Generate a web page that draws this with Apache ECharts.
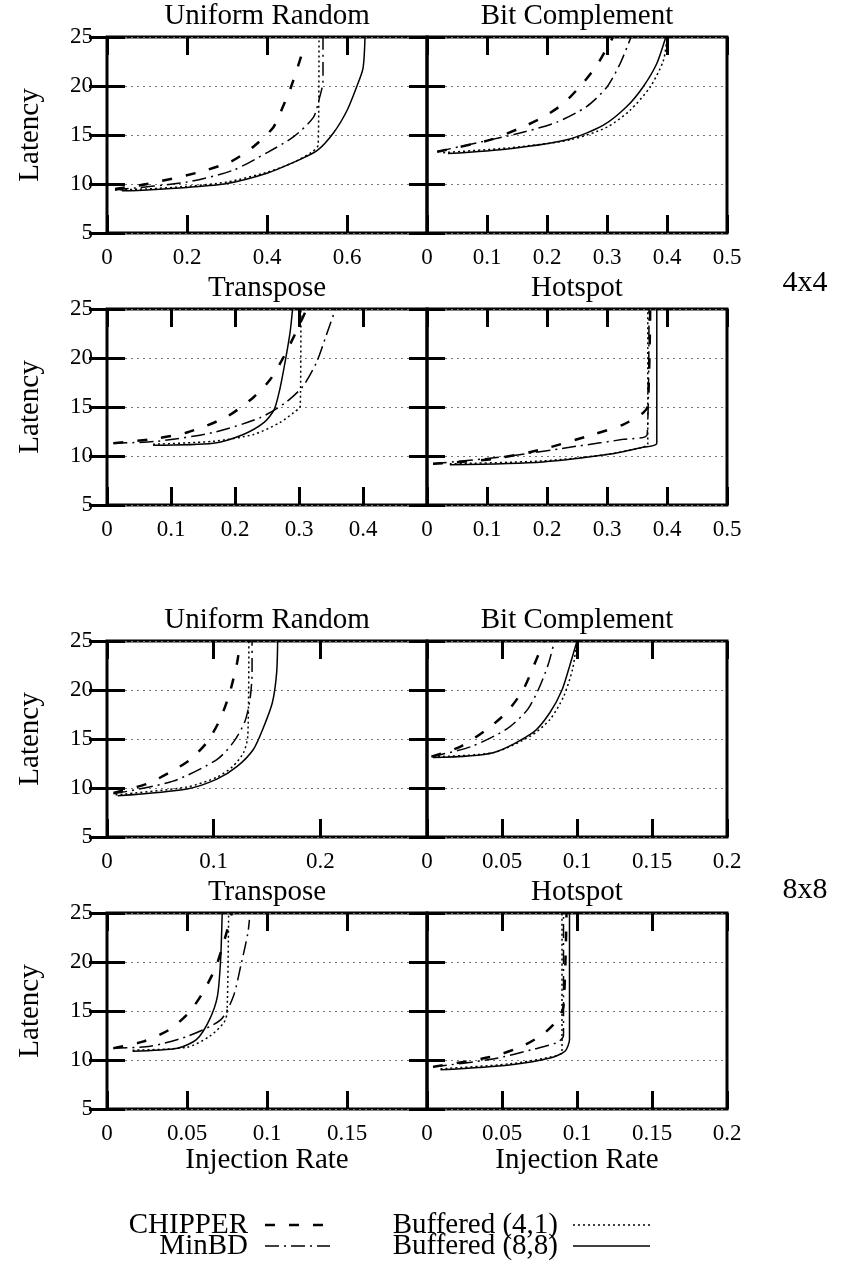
<!DOCTYPE html>
<html>
<head>
<meta charset="utf-8">
<script src="https://cdn.jsdelivr.net/npm/echarts@6/dist/echarts.min.js"></script>
<style>
  html, body { margin: 0; padding: 0; background: #fff; }
  #chart { width: 849px; height: 1270px; }
</style>
</head>
<body>
<div id="chart"></div>
<script>
// panels, left to right, top to bottom
const titles = ['Uniform Random', 'Bit Complement', 'Transpose', 'Hotspot',
  'Uniform Random', 'Bit Complement', 'Transpose', 'Hotspot']
const xMax = [0.8, 0.5, 0.5, 0.5, 0.3, 0.2, 0.2, 0.2]
const xStep = [0.2, 0.1, 0.1, 0.1, 0.1, 0.05, 0.05, 0.05]
const yMin = 5
const yMax = 25
const yStep = 5
const seriesNames = ['CHIPPER', 'MinBD', 'Buffered (4,1)', 'Buffered (8,8)']

// 4x4
const ur4Chipper = [[0.02, 9.5], [0.1, 10.0], [0.23, 11.2], [0.31, 12.3], [0.366, 13.8], [0.416, 15.8], [0.44, 17.9], [0.46, 19.9], [0.49, 23.6]]
const ur4MinBD = [[0.02, 9.4], [0.2, 10.2], [0.315, 11.4], [0.4, 13.2], [0.466, 14.8], [0.516, 16.8], [0.53, 18.6], [0.54, 20.5], [0.54, 25]]
const ur4Buf41 = [[0.02, 9.4], [0.1, 9.5], [0.2, 9.75], [0.3, 10.2], [0.4, 11.2], [0.466, 12.2], [0.51, 13.2], [0.528, 14.0], [0.53, 25]]
const ur4Buf88 = [[0.037, 9.3], [0.1, 9.4], [0.2, 9.65], [0.3, 10.05], [0.4, 11.1], [0.466, 12.2], [0.525, 13.4], [0.566, 15.2], [0.6, 17.5], [0.624, 19.9], [0.64, 21.8], [0.645, 25]]

const bc4Chipper = [[0.017, 13.3], [0.105, 14.5], [0.155, 15.7], [0.193, 16.8], [0.227, 18.2], [0.26, 20.3], [0.285, 22.3], [0.31, 25]]
const bc4MinBD = [[0.017, 13.3], [0.083, 14.2], [0.155, 15.2], [0.216, 16.3], [0.266, 17.9], [0.3, 19.9], [0.322, 22.3], [0.34, 25]]
const bc4Buf41 = [[0.027, 13.2], [0.138, 13.7], [0.238, 14.5], [0.3, 15.8], [0.338, 17.5], [0.372, 19.9], [0.394, 22.6], [0.4, 25]]
const bc4Buf88 = [[0.035, 13.1], [0.138, 13.6], [0.238, 14.6], [0.294, 16.0], [0.333, 17.9], [0.36, 19.9], [0.383, 22.3], [0.398, 25]]

const tr4Chipper = [[0.01, 11.3], [0.067, 11.7], [0.125, 12.4], [0.187, 14.0], [0.229, 16.0], [0.255, 17.8], [0.276, 20.1], [0.295, 22.6], [0.312, 25]]
const tr4MinBD = [[0.01, 11.3], [0.078, 11.5], [0.166, 12.4], [0.239, 13.9], [0.28, 15.5], [0.306, 17.1], [0.327, 19.5], [0.342, 22.2], [0.357, 25]]
const tr4Buf41 = [[0.072, 11.2], [0.166, 11.5], [0.229, 12.2], [0.27, 13.4], [0.291, 14.4], [0.302, 15.1], [0.303, 25]]
const tr4Buf88 = [[0.072, 11.1], [0.166, 11.3], [0.213, 12.2], [0.245, 13.4], [0.261, 14.7], [0.27, 16.8], [0.278, 19.5], [0.286, 22.6], [0.29, 25]]

const hs4Chipper = [[0.01, 9.2], [0.11, 9.7], [0.193, 10.7], [0.277, 12.2], [0.327, 13.2], [0.36, 14.4], [0.368, 15.1], [0.372, 25]]
const hs4MinBD = [[0.01, 9.2], [0.138, 10.0], [0.25, 11.0], [0.327, 11.7], [0.367, 12.2], [0.37, 25]]
const hs4Buf41 = [[0.038, 9.2], [0.193, 9.5], [0.305, 10.2], [0.36, 10.9], [0.368, 11.2], [0.368, 25]]
const hs4Buf88 = [[0.038, 9.1], [0.193, 9.4], [0.305, 10.2], [0.36, 10.9], [0.383, 11.3], [0.383, 25]]

// 8x8
const ur8Chipper = [[0.006, 9.5], [0.037, 10.4], [0.059, 11.6], [0.078, 12.9], [0.094, 14.7], [0.106, 17.0], [0.115, 19.7], [0.122, 22.8], [0.125, 25]]
const ur8MinBD = [[0.006, 9.4], [0.062, 10.7], [0.103, 12.9], [0.118, 14.6], [0.129, 16.7], [0.134, 19.0], [0.136, 21.7], [0.136, 25]]
const ur8Buf41 = [[0.008, 9.3], [0.075, 10.1], [0.103, 11.1], [0.118, 12.2], [0.128, 13.6], [0.132, 15.3], [0.133, 25]]
const ur8Buf88 = [[0.01, 9.2], [0.075, 9.9], [0.103, 10.9], [0.122, 12.2], [0.137, 13.9], [0.146, 16.0], [0.155, 18.7], [0.159, 21.7], [0.16, 25]]

const bc8Chipper = [[0.003, 13.2], [0.022, 14.2], [0.04, 16.0], [0.053, 17.7], [0.064, 20.0], [0.071, 22.4], [0.078, 25]]
const bc8MinBD = [[0.003, 13.2], [0.029, 14.2], [0.053, 16.0], [0.067, 18.0], [0.075, 20.3], [0.081, 22.7], [0.085, 25]]
const bc8Buf41 = [[0.004, 13.2], [0.044, 13.6], [0.069, 15.3], [0.082, 17.0], [0.091, 19.3], [0.097, 22.1], [0.1, 25]]
const bc8Buf88 = [[0.004, 13.1], [0.044, 13.6], [0.071, 15.7], [0.082, 17.7], [0.09, 20.0], [0.095, 22.4], [0.1, 25]]

const tr8Chipper = [[0.004, 11.2], [0.023, 11.9], [0.039, 13.1], [0.051, 14.8], [0.06, 16.9], [0.068, 19.5], [0.073, 22.0], [0.078, 25]]
const tr8MinBD = [[0.004, 11.2], [0.027, 11.4], [0.05, 12.4], [0.071, 14.1], [0.079, 16.5], [0.084, 19.9], [0.088, 22.9], [0.089, 24.3]]
const tr8Buf41 = [[0.016, 11.0], [0.05, 11.3], [0.064, 12.4], [0.073, 13.8], [0.075, 14.8], [0.076, 25]]
const tr8Buf88 = [[0.016, 10.9], [0.044, 11.2], [0.056, 12.1], [0.064, 14.1], [0.069, 16.5], [0.071, 20.2], [0.072, 25]]

const hs8Chipper = [[0.004, 9.3], [0.042, 10.3], [0.062, 11.3], [0.077, 12.6], [0.087, 14.1], [0.091, 15.5], [0.093, 25]]
const hs8MinBD = [[0.004, 9.3], [0.044, 10.1], [0.071, 11.1], [0.087, 11.8], [0.091, 12.5], [0.091, 25]]
const hs8Buf41 = [[0.009, 9.1], [0.055, 9.6], [0.082, 10.3], [0.09, 10.8], [0.09, 25]]
const hs8Buf88 = [[0.009, 9.0], [0.055, 9.5], [0.082, 10.2], [0.092, 10.9], [0.095, 12.1], [0.095, 25]]

const panelData = [
  [ur4Chipper, ur4MinBD, ur4Buf41, ur4Buf88],
  [bc4Chipper, bc4MinBD, bc4Buf41, bc4Buf88],
  [tr4Chipper, tr4MinBD, tr4Buf41, tr4Buf88],
  [hs4Chipper, hs4MinBD, hs4Buf41, hs4Buf88],
  [ur8Chipper, ur8MinBD, ur8Buf41, ur8Buf88],
  [bc8Chipper, bc8MinBD, bc8Buf41, bc8Buf88],
  [tr8Chipper, tr8MinBD, tr8Buf41, tr8Buf88],
  [hs8Chipper, hs8MinBD, hs8Buf41, hs8Buf88]
]

// layout
const FONT = '"Liberation Serif", "Times New Roman", serif'
const colLeft = [107, 427]
const colWidth = [320, 300]
const rowTop = [37, 309, 641, 913]
const rowHeight = 196
const lineStyles = [
  { type: [10, 14], width: 2.5 },
  { type: [14, 5, 2, 5], width: 1.5 },
  { type: [2, 3], width: 1.5 },
  { type: 'solid', width: 1.5 }
]

let grids = []
let xAxes = []
let yAxes = []
let series = []
let graphics = []

for (let i = 0; i < 8; i++) {
  let row = Math.floor(i / 2)
  let col = i % 2
  grids.push({
    left: colLeft[col], top: rowTop[row], width: colWidth[col], height: rowHeight,
    show: true, borderColor: '#000', borderWidth: 3, backgroundColor: 'transparent'
  })
  let tick = { inside: true, length: 18, lineStyle: { color: '#000', width: 3 } }
  xAxes.push({
    gridIndex: i, type: 'value', position: 'bottom', min: 0, max: xMax[i], interval: xStep[i],
    axisLine: { show: false }, axisTick: tick, splitLine: { show: false },
    axisLabel: { color: '#000', fontFamily: FONT, fontSize: 23, margin: 13, showMaxLabel: col === 1 },
    name: row === 3 ? 'Injection Rate' : '', nameLocation: 'middle', nameGap: 36,
    nameTextStyle: { color: '#000', fontFamily: FONT, fontSize: 29 }
  })
  xAxes.push({
    gridIndex: i, type: 'value', position: 'top', min: 0, max: xMax[i], interval: xStep[i],
    axisLine: { show: false }, axisTick: tick, splitLine: { show: false }, axisLabel: { show: false }
  })
  yAxes.push({
    gridIndex: i, type: 'value', position: 'left', min: yMin, max: yMax, interval: yStep,
    axisLine: { show: false }, axisTick: tick,
    splitLine: { show: true, lineStyle: { color: '#777', width: 1, type: [2, 4] } },
    axisLabel: { show: col === 0, color: '#000', fontFamily: FONT, fontSize: 23, margin: 14 },
    name: col === 0 ? 'Latency' : '', nameLocation: 'middle', nameRotate: 90, nameGap: 62,
    nameTextStyle: { color: '#000', fontFamily: FONT, fontSize: 29 }
  })
  yAxes.push({
    gridIndex: i, type: 'value', position: 'right', min: yMin, max: yMax, interval: yStep,
    axisLine: { show: false }, axisTick: tick, splitLine: { show: false }, axisLabel: { show: false }
  })
  panelData[i].forEach((d, k) => {
    series.push({
      name: seriesNames[k], type: 'line', xAxisIndex: 2 * i, yAxisIndex: 2 * i,
      data: d, showSymbol: false, smooth: 0.25, clip: true,
      lineStyle: { color: '#000', width: lineStyles[k].width, type: lineStyles[k].type }
    })
  })
  graphics.push({
    type: 'text', x: colLeft[col] + colWidth[col] / 2, y: rowTop[row] - 21,
    style: { text: titles[i], font: '29px ' + FONT, fill: '#000', textAlign: 'center', textVerticalAlign: 'middle', align: 'center', verticalAlign: 'middle' }
  })
}

// mesh size labels
graphics.push({ type: 'text', x: 805, y: 283, style: { text: '4x4', font: '30px ' + FONT, fill: '#000', textAlign: 'center', textVerticalAlign: 'middle', align: 'center', verticalAlign: 'middle' } })
graphics.push({ type: 'text', x: 805, y: 890, style: { text: '8x8', font: '30px ' + FONT, fill: '#000', textAlign: 'center', textVerticalAlign: 'middle', align: 'center', verticalAlign: 'middle' } })

// legend, drawn by hand
const legendRows = [1225, 1246]
const legendCols = [{ textRight: 248, lineFrom: 265, lineTo: 330 }, { textRight: 558, lineFrom: 573, lineTo: 650 }]
seriesNames.forEach((name, k) => {
  let c = legendCols[Math.floor(k / 2)]
  let y = legendRows[k % 2]
  graphics.push({ type: 'text', x: c.textRight, y: y, style: { text: name, font: '29px ' + FONT, fill: '#000', textAlign: 'right', textVerticalAlign: 'middle', align: 'right', verticalAlign: 'middle' } })
  let ls = lineStyles[k]
  graphics.push({
    type: 'line', shape: { x1: c.lineFrom, y1: y, x2: c.lineTo, y2: y },
    style: { stroke: '#000', lineWidth: ls.width, lineDash: ls.type === 'solid' ? null : ls.type }
  })
})

let chart = echarts.init(document.getElementById('chart'))
chart.setOption({
  animation: false,
  backgroundColor: '#fff',
  grid: grids,
  xAxis: xAxes,
  yAxis: yAxes,
  series: series,
  graphic: graphics
})
</script>
</body>
</html>
